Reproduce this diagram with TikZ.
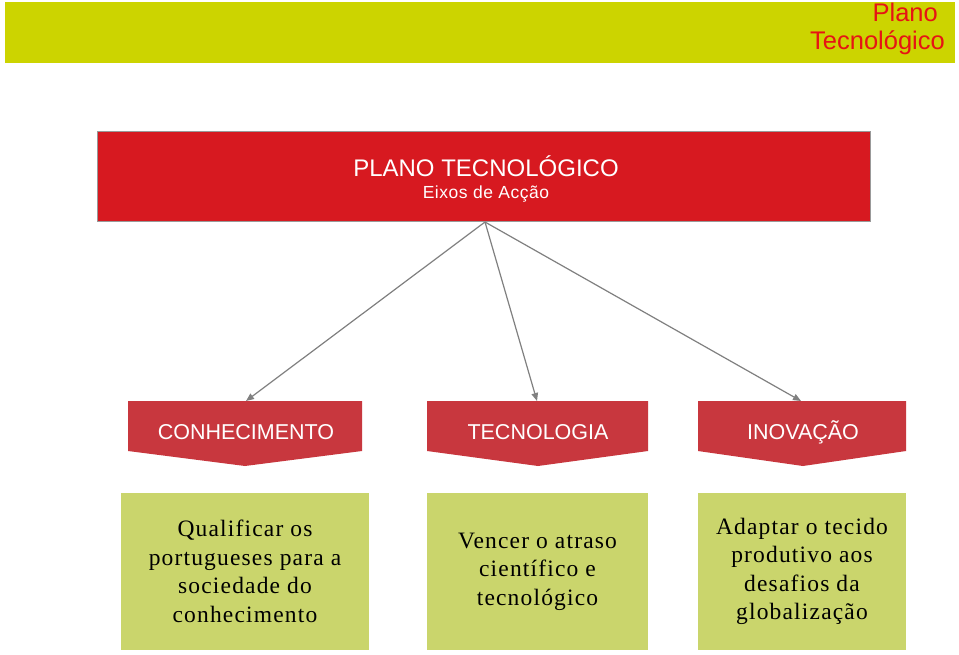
\documentclass[tikz,border=0pt]{standalone}
\usepackage{fontspec}
\setmainfont{Liberation Sans}
\newfontfamily\boxserif[LetterSpace=5]{Liberation Serif}
\newfontfamily\subsans[LetterSpace=3]{Liberation Sans}
\usetikzlibrary{arrows.meta}
\definecolor{barcol}{RGB}{204,212,0}
\definecolor{titlered}{RGB}{215,25,32}
\definecolor{chevred}{RGB}{200,55,62}
\definecolor{boxgreen}{RGB}{202,213,108}
\definecolor{arrowgray}{RGB}{128,128,128}
\definecolor{toptext}{RGB}{230,20,20}
\tikzset{
  titlebox/.style={draw=arrowgray!80, line width=1pt, fill=titlered, minimum width=773pt, minimum height=90pt, inner sep=0pt},
  chevtext/.style={text=white, font=\fontsize{21.5}{24}\selectfont, anchor=base, inner sep=0pt},
  chevshape/.style={fill=chevred},
  greenbox/.style={fill=boxgreen, inner sep=0pt, align=center, font=\boxserif\fontsize{23.5}{28.5}\selectfont, text=black},
  link/.style={draw=arrowgray, line width=1.2pt, -{Triangle[length=8pt,width=6.5pt]}, shorten <=0pt},
}
\begin{document}
\begin{tikzpicture}[x=1pt,y=-1pt]
\useasboundingbox (0,0) rectangle (959,655);
\fill[white] (0,0) rectangle (959,655);
% top bar
\fill[barcol] (5,2) rectangle (955,63);
\node[anchor=base east, inner sep=0pt, text=toptext, font=\fontsize{25.5}{28}\selectfont] (pl1) at (938,22) {Plano};
\node[anchor=base east, inner sep=0pt, text=toptext, font=\fontsize{25.5}{28}\selectfont] (pl2) at (945,50) {Tecnológico};
% title box
\node[titlebox] (title) at (483.5,177) {};
\node[anchor=base, inner sep=0pt, text=white, font=\fontsize{24}{28}\selectfont] (t1) at (486,177) {PLANO TECNOLÓGICO};
\node[anchor=base, inner sep=0pt, text=white, font=\subsans\fontsize{17.5}{20}\selectfont] (t2) at (486,199) {Eixos de Acção};
\coordinate (hub) at (485,222);
% chevrons
\fill[chevshape] (128,401) -- (362,401) -- (362,451) -- (245,466) -- (128,451) -- cycle;
\fill[chevshape] (427,401) -- (648,401) -- (648,451) -- (538,466) -- (427,451) -- cycle;
\fill[chevshape] (698,401) -- (906,401) -- (906,451) -- (803,466) -- (698,451) -- cycle;
\coordinate (k1) at (246,401);
\coordinate (k2) at (537,401);
\coordinate (k3) at (801,401);
\node[chevtext] (c1) at (246,439) {CONHECIMENTO};
\node[chevtext] (c2) at (538,439) {TECNOLOGIA};
\node[chevtext] (c3) at (803,439) {INOVAÇÃO};
% arrows
\draw[link] (hub) -- (k1);
\draw[link] (hub) -- (k2);
\draw[link] (hub) -- (k3);
% green boxes
\node[greenbox, minimum width=248pt, minimum height=157pt] (g1) at (245,571.5) {Qualificar os\\portugueses para a\\sociedade do\\conhecimento};
\node[greenbox, minimum width=221pt, minimum height=157pt] (g2) at (537.5,571.5) {Vencer o atraso\\científico e\\tecnológico};
\node[greenbox, minimum width=208pt, minimum height=157pt] (g3) at (802,571.5) {Adaptar o tecido\\produtivo aos\\desafios da\\globalização};
\end{tikzpicture}
\end{document}
